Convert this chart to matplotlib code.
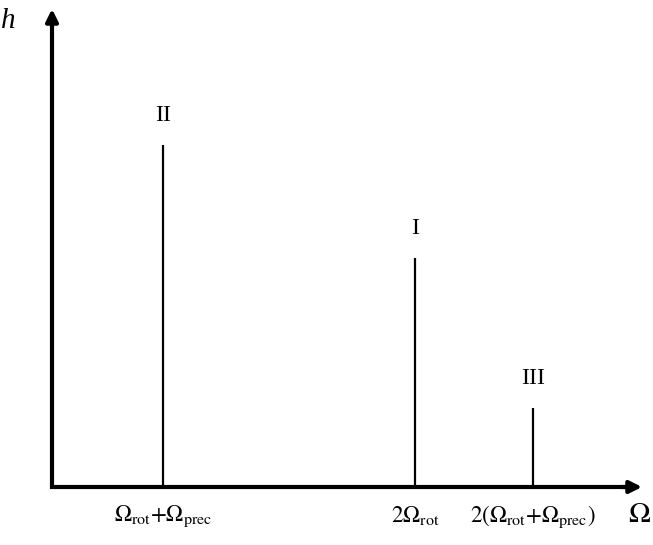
import matplotlib.pyplot as plt

plt.rcParams['font.family'] = 'Liberation Serif'
plt.rcParams['mathtext.fontset'] = 'stix'

# peak positions / heights (arbitrary units, axis spans 0..588 x 0..475)
positions = [111, 363, 481]
heights = [342, 229, 79]
peak_names = ['II', 'I', 'III']
tick_labels = [r'$\mathrm{\Omega_{rot}{+}\Omega_{prec}}$',
               r'$\mathrm{2\Omega_{rot}}$',
               r'$\mathrm{2(\Omega_{rot}{+}\Omega_{prec})}$']

fig = plt.figure(figsize=(6.53, 5.45), dpi=100)
ax = fig.add_axes([52 / 653, 58 / 545, 588 / 653, 475 / 545])
ax.set_xlim(0, 588)
ax.set_ylim(0, 475)
ax.axis('off')

ax.vlines(positions, 0, heights, color='black', lw=1.6)

for x, h, name in zip(positions, heights, peak_names):
    ax.annotate(name, xy=(x, h), xytext=(0, 21.5), textcoords='offset points',
                ha='center', va='center', fontsize=17)

for x, lab in zip(positions, tick_labels):
    ax.annotate(lab, xy=(x, 0), xytext=(0, -21), textcoords='offset points',
                ha='center', va='center', fontsize=16.5)

# axes as one L-shaped line, then arrow heads
ax.plot([0, 0, 575], [465, 0, 0], color='black', lw=3,
        solid_joinstyle='miter', solid_capstyle='butt', clip_on=False)
arrow = dict(arrowstyle='-|>', lw=3, color='black', mutation_scale=18,
             shrinkA=0, shrinkB=0)
ax.annotate('', xy=(590, 0), xytext=(570, 0), arrowprops=arrow,
            annotation_clip=False)
ax.annotate('', xy=(0, 478), xytext=(0, 460), arrowprops=arrow,
            annotation_clip=False)

fig.text(1 / 653, 1 - 21 / 545, 'h', style='italic', fontsize=21,
         ha='left', va='center')
fig.text(639 / 653, 1 - 515 / 545, r'$\mathrm{\Omega}$', fontsize=21,
         ha='center', va='center')

plt.savefig('out.png', dpi=100)
